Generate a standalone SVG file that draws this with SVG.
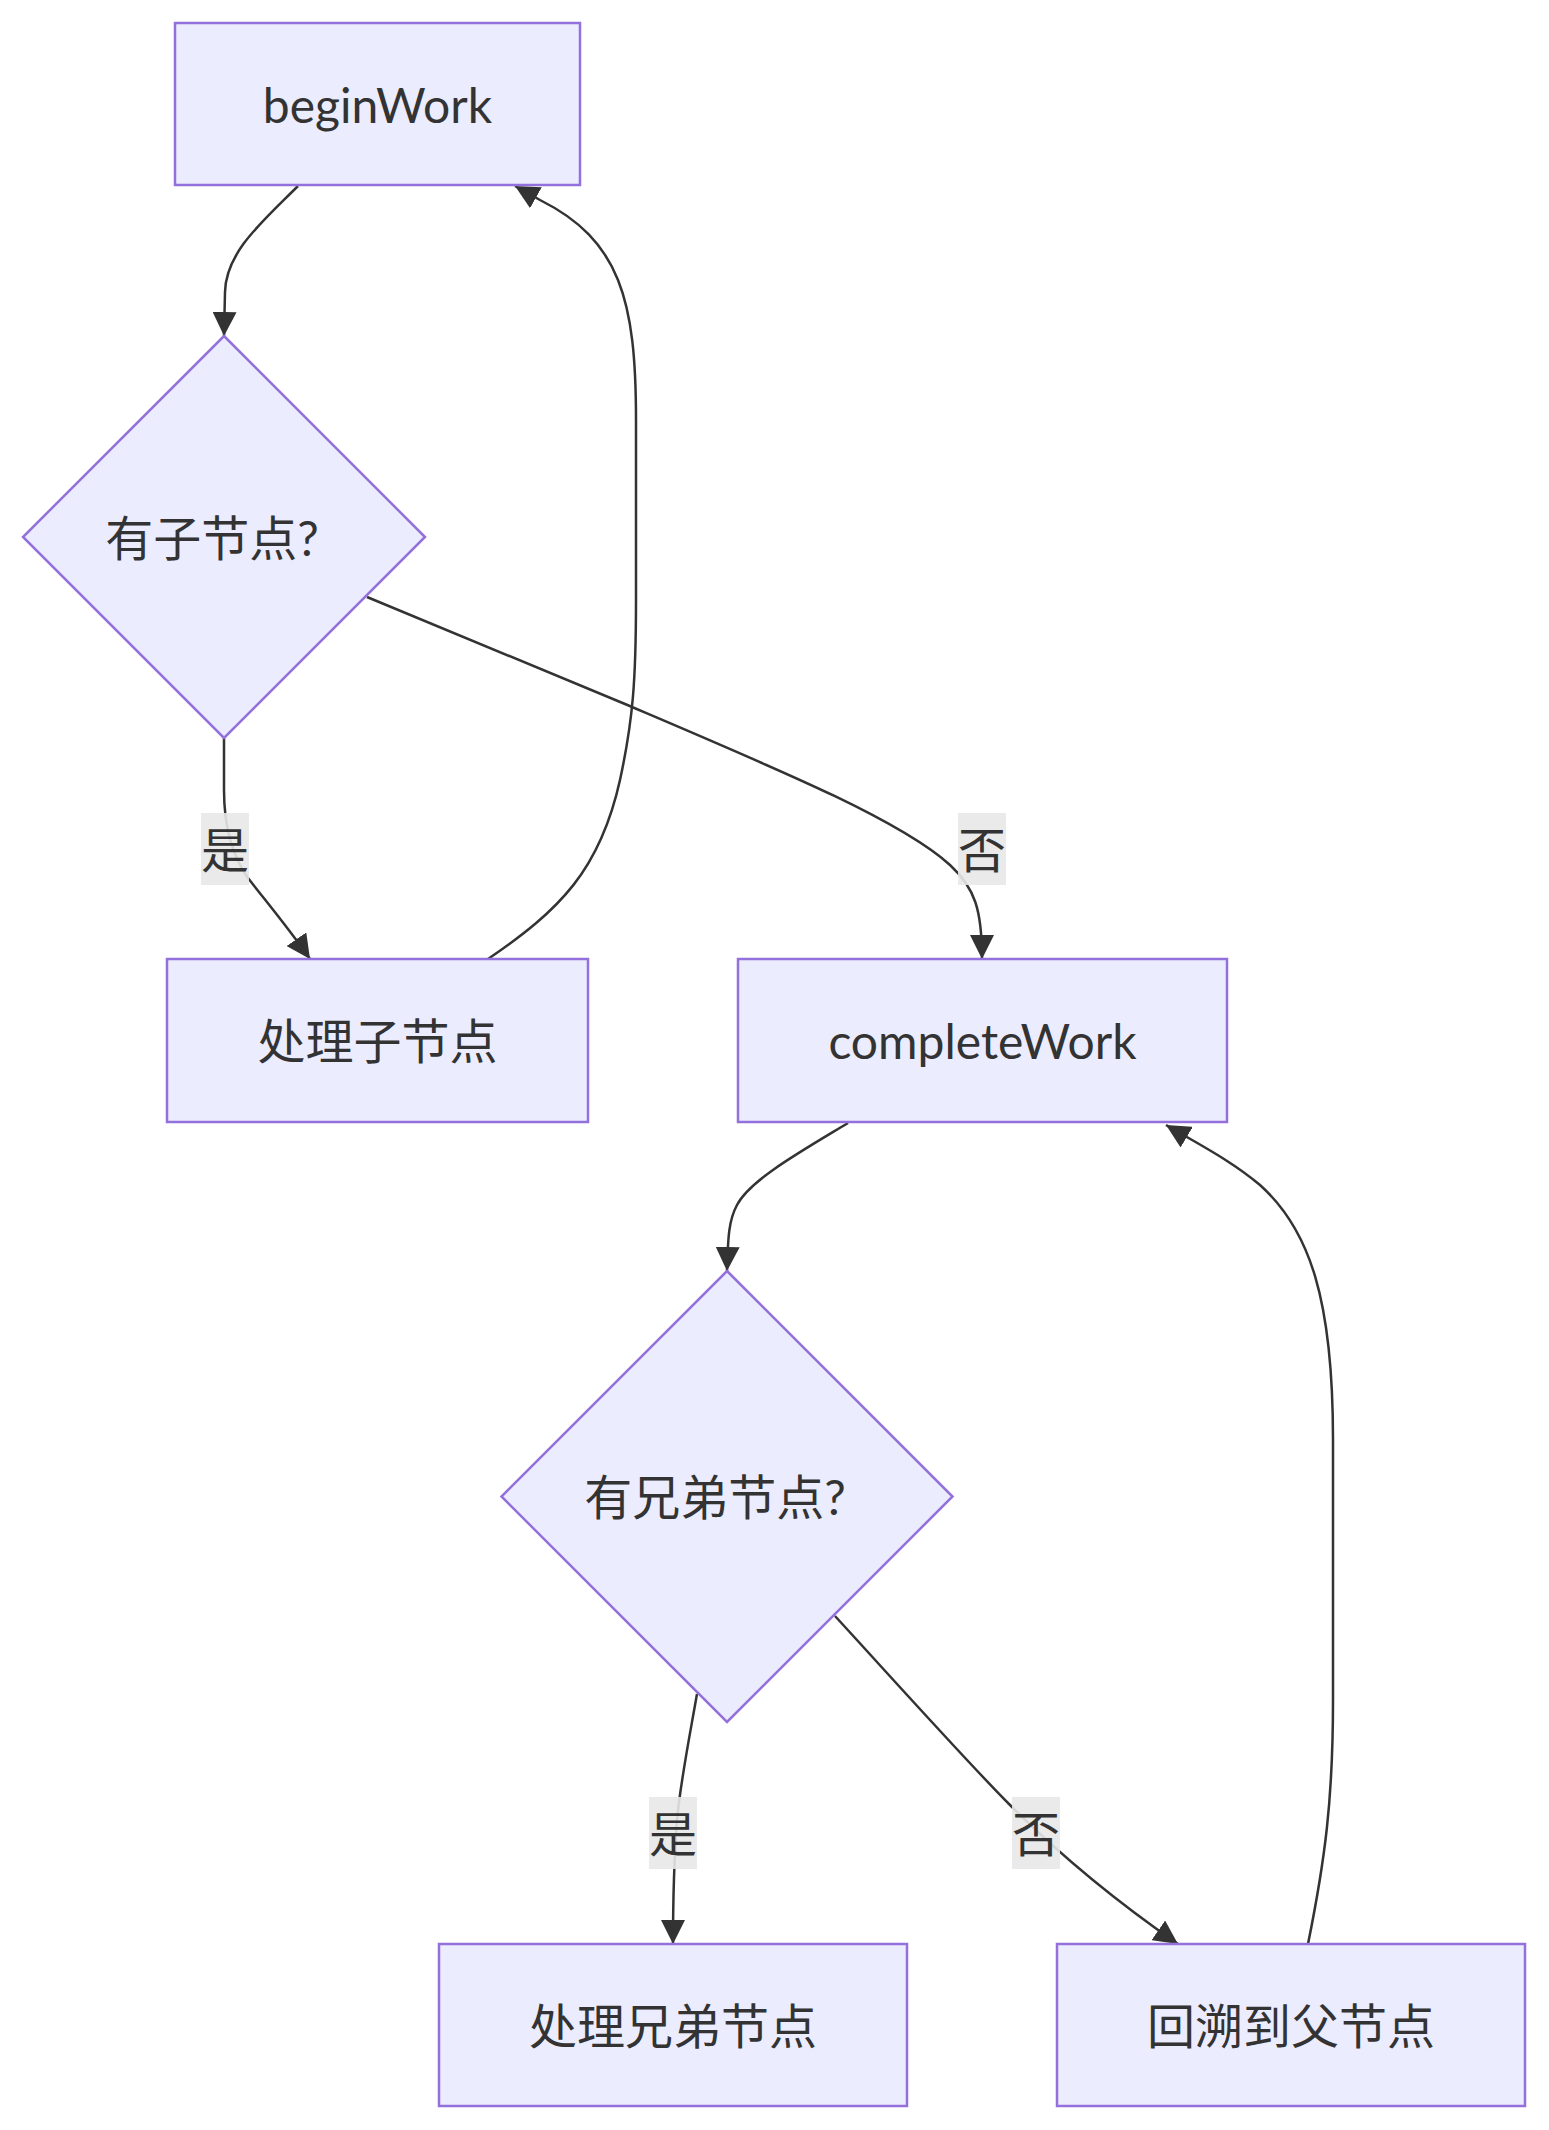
<svg xmlns="http://www.w3.org/2000/svg" width="1549" height="2130" viewBox="0 0 1549 2130">
<style>
.node rect,.node polygon{fill:#ECECFF;stroke:#9370DB;stroke-width:2.5}
.node text{font-family:Lato,"Noto Sans CJK SC",sans-serif;font-size:48px;fill:#333;text-anchor:middle;dominant-baseline:central}
.edge{fill:none;stroke:#333;stroke-width:2.5}
.lbl rect{fill:#e8e8e8;opacity:0.9}
.lbl text{font-family:Lato,"Noto Sans CJK SC",sans-serif;font-size:48px;fill:#333;text-anchor:middle;dominant-baseline:central}
</style>
<defs>
<marker id="arr" markerUnits="userSpaceOnUse" markerWidth="24" markerHeight="24" viewBox="0 0 10 10" refX="10" refY="5" orient="auto">
<path d="M0,0 L10,5 L0,10 z" fill="#333"/>
</marker>
</defs>
<rect width="1549" height="2130" fill="#fff"/>
<g id="edges">
<path class="edge" marker-end="url(#arr)" d="M298,186 C262,222 226,252 225,292 L224,336"/>
<path class="edge" marker-end="url(#arr)" d="M224,738 L224,790 C224,818 228,850 248,878 C265,900 290,930 310,959"/>
<path class="edge" marker-end="url(#arr)" d="M488,959 C560,910 600,870 620,780 C633,720 636,680 636,600 L636,420 C636,300 620,240 540,200 L515,186"/>
<path class="edge" marker-end="url(#arr)" d="M367,597 L625,704 C780,770 900,820 950,865 C975,888 982,910 982,959"/>
<path class="edge" marker-end="url(#arr)" d="M848,1123 C800,1152 750,1180 737,1205 C729,1220 728,1235 727,1271"/>
<path class="edge" marker-end="url(#arr)" d="M697,1694 C688,1745 680,1785 677,1820 C674,1860 673,1890 673,1944"/>
<path class="edge" marker-end="url(#arr)" d="M835,1616 C900,1687 970,1765 1010,1805 C1060,1855 1110,1897 1178,1944"/>
<path class="edge" marker-end="url(#arr)" d="M1308,1944 C1325,1860 1333,1800 1333,1700 L1333,1440 C1333,1300 1310,1230 1260,1185 C1230,1160 1200,1145 1166,1125"/>
<g class="lbl"><rect x="201" y="813" width="48" height="72"/><text x="225" y="849">是</text></g>
<g class="lbl"><rect x="958" y="813" width="48" height="72"/><text x="982" y="849">否</text></g>
<g class="lbl"><rect x="649" y="1797" width="48" height="72"/><text x="673" y="1833">是</text></g>
<g class="lbl"><rect x="1012" y="1797" width="48" height="72"/><text x="1036" y="1833">否</text></g>
</g>
<g id="n-beginWork" class="node"><rect x="175" y="23" width="405" height="162"/><text x="377.5" y="104">beginWork</text></g>
<g id="n-hasChild" class="node"><polygon points="224,336 425,537 224,738 23,537"/><text x="212" y="537">有子节点?</text></g>
<g id="n-processChild" class="node"><rect x="167" y="959" width="421" height="163"/><text x="377.5" y="1040.5">处理子节点</text></g>
<g id="n-completeWork" class="node"><rect x="738" y="959" width="489" height="163"/><text x="982.5" y="1040.5">completeWork</text></g>
<g id="n-hasSibling" class="node"><polygon points="727,1271 952.5,1496.5 727,1722 501.5,1496.5"/><text x="715" y="1496.5">有兄弟节点?</text></g>
<g id="n-processSibling" class="node"><rect x="439" y="1944" width="468" height="162"/><text x="673" y="2025">处理兄弟节点</text></g>
<g id="n-backtrack" class="node"><rect x="1057" y="1944" width="468" height="162"/><text x="1291" y="2025">回溯到父节点</text></g>
</svg>
